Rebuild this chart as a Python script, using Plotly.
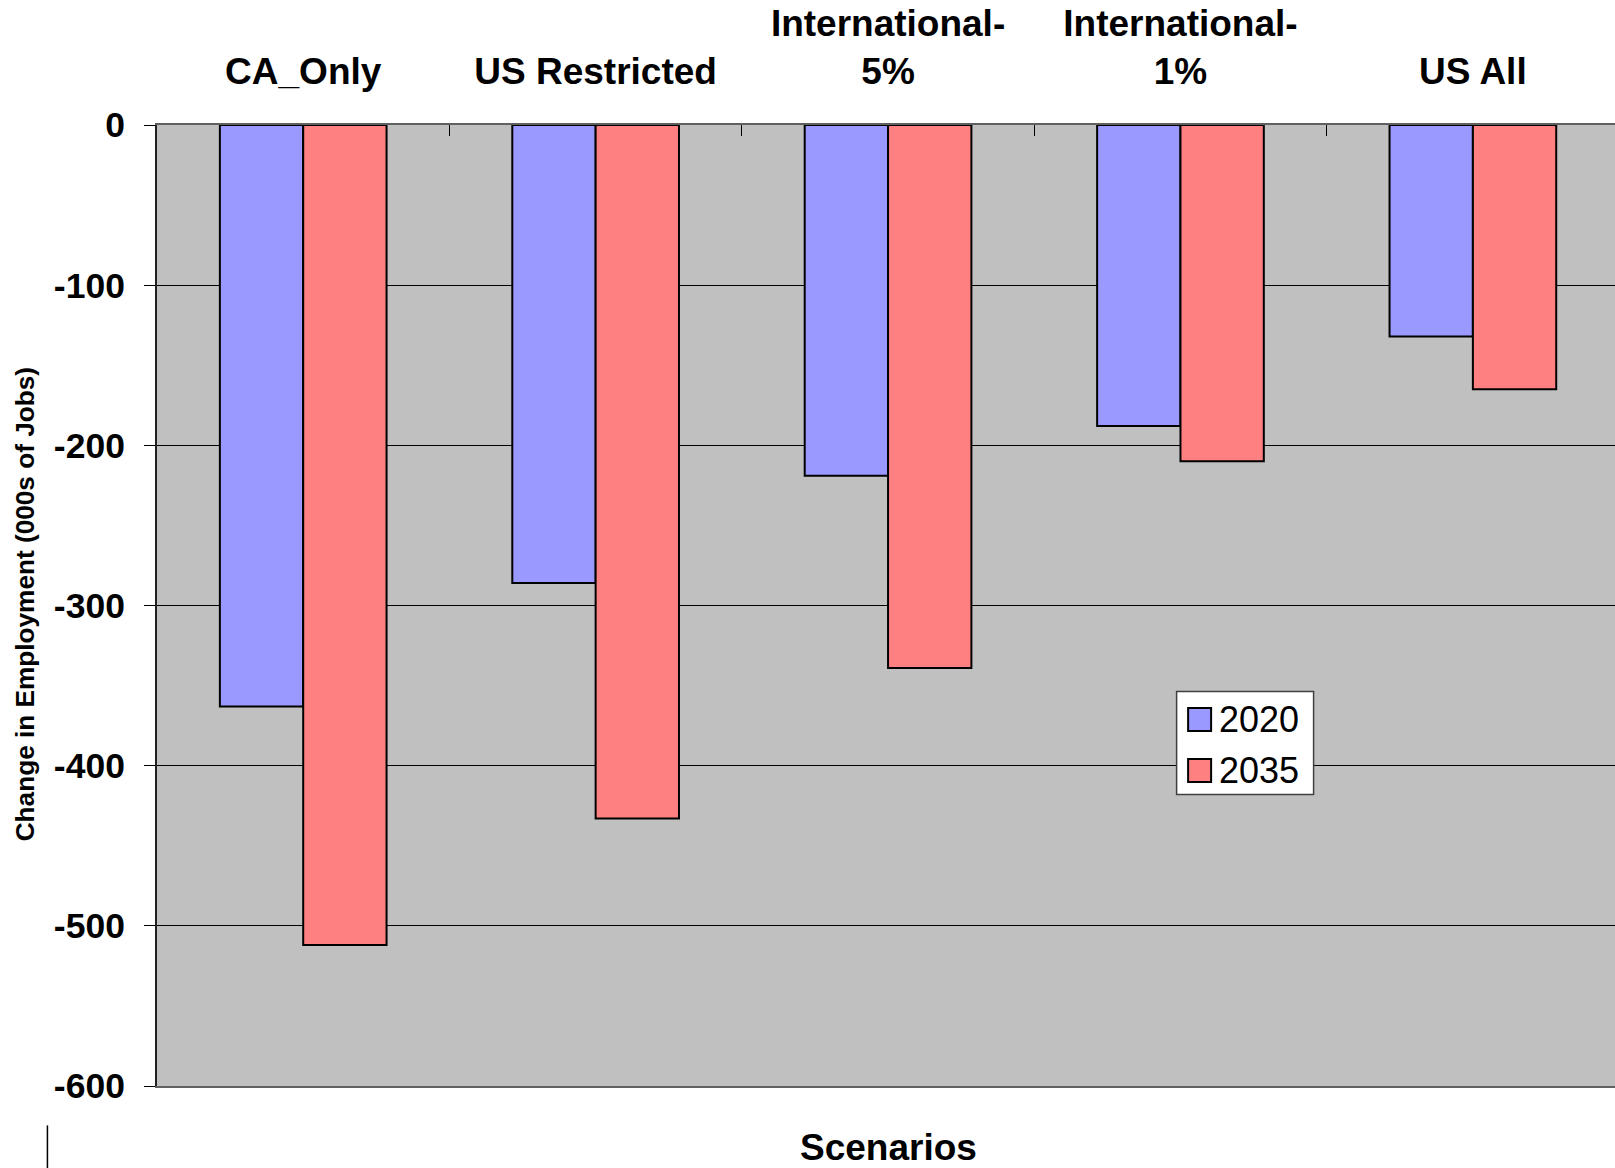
import plotly.graph_objects as go

# Scenario categories and employment change (thousands of jobs)
scenarios = ["CA_Only", "US Restricted", "International-5%", "International-1%", "US All"]
scenario_labels = ["CA_Only", "US Restricted", "International-<br>5%", "International-<br>1%", "US All"]
jobs_2020 = [-363, -286, -219, -188, -132]
jobs_2035 = [-512, -433, -339, -210, -165]
series_names = ["2020", "2035"]
series_colors = ["#9999FF", "#FF8080"]
y_ticks = [0, -100, -200, -300, -400, -500, -600]
y_tick_labels = ["0", "-100", "-200", "-300", "-400", "-500", "-600"]

FONT = "Liberation Sans, Arial, sans-serif"

fig = go.Figure()
for name, vals, col in zip(series_names, [jobs_2020, jobs_2035], series_colors):
    fig.add_trace(go.Bar(
        x=scenarios, y=vals, name=name,
        marker=dict(color=col, line=dict(color="black", width=2)),
        showlegend=False,
    ))

W, H = 1615, 1168
L, T, B, R = 156.6, 124.6, 82.4, 0
pw, ph = W - L - R, H - T - B

def px(x):
    return (x - L) / pw

def py(y):
    return (H - B - y) / ph

shapes = []
annotations = []

# legend box with swatches
shapes.append(dict(type="rect", xref="paper", yref="paper",
                   x0=px(1176.5), x1=px(1313.5), y0=py(794), y1=py(691),
                   fillcolor="white", line=dict(color="#404040", width=1.5), layer="above"))
for i, (name, col) in enumerate(zip(series_names, series_colors)):
    cy = 719 + i * 51
    shapes.append(dict(type="rect", xref="paper", yref="paper",
                       x0=px(1188), x1=px(1211), y0=py(cy + 11.5), y1=py(cy - 11.5),
                       fillcolor=col, line=dict(color="black", width=2), layer="above"))
    annotations.append(dict(text=name, xref="paper", yref="paper",
                            x=px(1217), y=py(cy), xanchor="left", yanchor="middle",
                            showarrow=False, font=dict(family=FONT, size=36, color="black")))

# small stray rule at the lower left
shapes.append(dict(type="line", xref="paper", yref="paper",
                   x0=px(47), x1=px(47), y0=py(1125), y1=py(1168),
                   line=dict(color="black", width=1.5)))

# axis titles
annotations.append(dict(text="<b>Change in Employment (000s of Jobs)</b>", xref="paper", yref="paper",
                        x=px(24), y=py(603.5), textangle=-90, showarrow=False,
                        xanchor="center", yanchor="middle",
                        font=dict(family=FONT, size=26.2, color="black")))
annotations.append(dict(text="<b>Scenarios</b>", xref="paper", yref="paper",
                        x=px(888), y=py(1147), showarrow=False,
                        xanchor="center", yanchor="middle",
                        font=dict(family=FONT, size=37, color="black")))

fig.update_layout(
    width=W, height=H,
    margin=dict(l=L, r=R, t=T, b=B, pad=0),
    paper_bgcolor="white",
    plot_bgcolor="#C0C0C0",
    barmode="group",
    bargap=0.43,
    bargroupgap=0,
    shapes=shapes,
    annotations=annotations,
    xaxis=dict(
        side="top",
        range=[-0.5, 4.486],
        tickvals=scenarios, ticktext=scenario_labels,
        tickson="boundaries", ticks="inside", ticklen=11, tickcolor="black", tickwidth=1,
        showline=True, linecolor="#606060", linewidth=2, mirror=True,
        showgrid=False,
        ticklabelstandoff=24,
        tickfont=dict(family=FONT, size=37, color="black", weight="bold"),
    ),
    yaxis=dict(
        range=[-600, 0],
        tickvals=y_ticks, ticktext=y_tick_labels,
        ticks="outside", ticklen=11, tickcolor="black", tickwidth=1,
        showline=True, linecolor="#202020", linewidth=2,
        showgrid=True, gridcolor="black", gridwidth=1,
        zeroline=False,
        ticklabelstandoff=12,
        tickfont=dict(family=FONT, size=35.5, color="black", weight="bold"),
    ),
)

fig.write_html("out.html")
